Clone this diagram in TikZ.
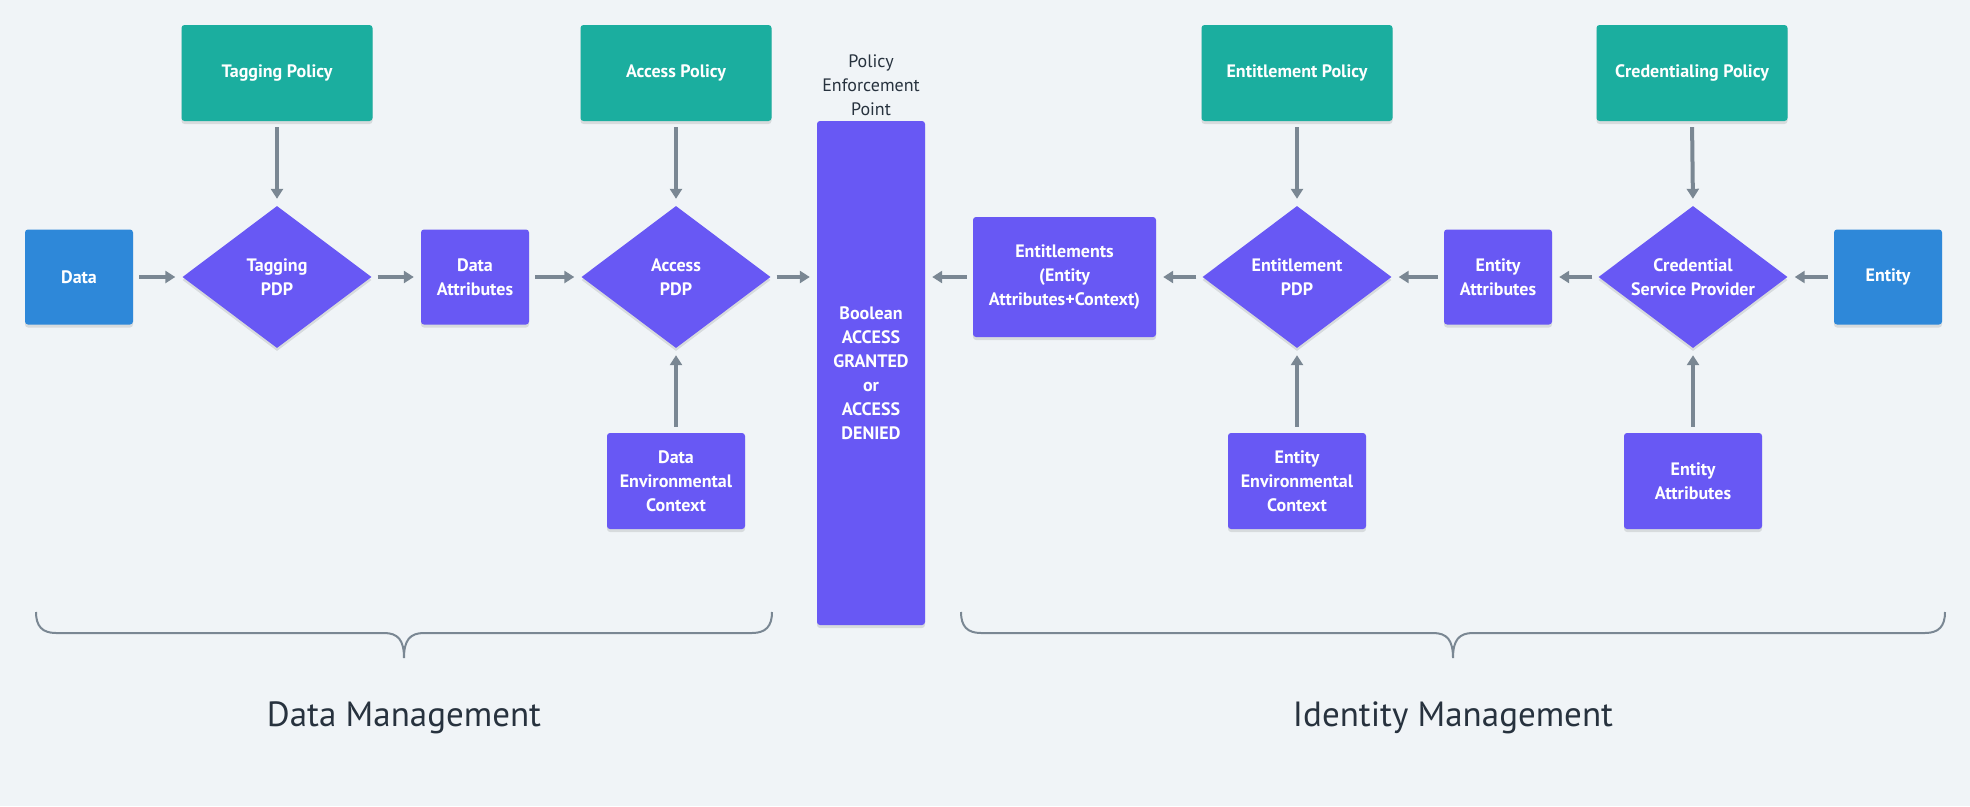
\documentclass[tikz,border=0pt]{standalone}
\usepackage{fontspec}
\setmainfont{PT Sans}
\newfontfamily\nodefont{PT Sans}
\usetikzlibrary{arrows.meta,shapes.geometric,shadows}
\definecolor{bgc}{RGB}{240,244,247}
\definecolor{tealc}{RGB}{27,174,159}
\definecolor{bluec}{RGB}{46,136,217}
\definecolor{purplec}{RGB}{104,88,244}
\definecolor{greyc}{RGB}{122,135,147}
\definecolor{darkc}{RGB}{39,50,62}
\tikzset{
  nodetext/.style={text=white, font=\nodefont\bfseries\fontsize{18}{24}\selectfont, align=center},
  basebox/.style={rectangle, rounded corners=3pt, inner sep=0pt, nodetext,
    drop shadow={shadow xshift=0pt, shadow yshift=-3pt, opacity=0.10, fill=black}},
  policybox/.style={basebox, fill=tealc, minimum width=191pt, minimum height=96pt},
  endbox/.style={basebox, fill=bluec, minimum width=108pt, minimum height=95pt},
  attrbox/.style={basebox, fill=purplec, minimum width=108pt, minimum height=95pt},
  ctxbox/.style={basebox, fill=purplec, minimum width=138pt, minimum height=96pt},
  pdp/.style={diamond, fill=purplec, inner sep=0pt, minimum width=189pt, minimum height=142pt,
    drop shadow={shadow xshift=0pt, shadow yshift=-3pt, opacity=0.10, fill=black}},
  arr/.style={draw=greyc, line width=4pt, -{Triangle[length=10pt,width=12pt]},
    shorten <=6pt, shorten >=7pt},
  bracec/.style={draw=greyc, line width=2pt},
  title/.style={text=darkc, font=\fontsize{35}{40}\selectfont},
}
\begin{document}
\begin{tikzpicture}[x=1pt,y=-1pt]
\fill[bgc] (0,0) rectangle (1970,806);

% policies
\node[policybox] (tpol) at (277,73) {Tagging Policy};
\node[policybox] (apol) at (676,73) {Access Policy};
\node[policybox] (epol) at (1297,73) {Entitlement Policy};
\node[policybox] (cpol) at (1692,73) {Credentialing Policy};

% main row
\node[endbox] (data) at (79,277) {Data};
\node[pdp, label={[nodetext]center:{Tagging\\PDP}}] (tpdp) at (277,277) {};
\node[attrbox] (dattr) at (475,277) {Data\\Attributes};
\node[pdp, label={[nodetext]center:{Access\\PDP}}] (apdp) at (676,277) {};
\node[basebox, fill=purplec, minimum width=108pt, minimum height=504pt] (pep) at (871,373)
  {Boolean\\ACCESS\\GRANTED\\or\\ACCESS\\DENIED};
\node[text=darkc, font=\fontsize{18}{24}\selectfont, align=center] (peplabel) at (871,85)
  {Policy\\Enforcement\\Point};
\node[basebox, fill=purplec, minimum width=183pt, minimum height=120pt] (ent) at (1064.5,277)
  {Entitlements\\(Entity\\Attributes+Context)};
\node[pdp, label={[nodetext]center:{Entitlement\\PDP}}] (epdp) at (1297,277) {};
\node[attrbox] (eattr) at (1498,277) {Entity\\Attributes};
\node[pdp, label={[nodetext]center:{Credential\\Service Provider}}] (csp) at (1693,277) {};
\node[endbox] (entity) at (1888,277) {Entity};

% bottom row
\node[ctxbox] (dctx) at (676,481) {Data\\Environmental\\Context};
\node[ctxbox] (ectx) at (1297,481) {Entity\\Environmental\\Context};
\node[ctxbox] (eattr2) at (1693,481) {Entity\\Attributes};

% connectors
\draw[arr] (data.east) -- (tpdp.west);
\draw[arr] (tpdp.east) -- (dattr.west);
\draw[arr] (dattr.east) -- (apdp.west);
\draw[arr] (apdp.east) -- (pep.west |- apdp.east);
\draw[arr] (ent.west) -- (pep.east |- ent.west);
\draw[arr] (epdp.west) -- (ent.east);
\draw[arr] (eattr.west) -- (epdp.east);
\draw[arr] (csp.west) -- (eattr.east);
\draw[arr] (entity.west) -- (csp.east);

\draw[arr] (tpol.south) -- (tpdp.north);
\draw[arr] (apol.south) -- (apdp.north);
\draw[arr] (epol.south) -- (epdp.north);
\draw[arr] (cpol.south) -- (csp.north);

\draw[arr] (dctx.north) -- (apdp.south);
\draw[arr] (ectx.north) -- (epdp.south);
\draw[arr] (eattr2.north) -- (csp.south);

% braces
\draw[bracec] (36,612) .. controls (36,626) and (42,633) .. (56,633) -- (384,633)
  .. controls (398,633) and (404,640) .. (404,658)
  .. controls (404,640) and (410,633) .. (424,633) -- (752,633)
  .. controls (766,633) and (772,626) .. (772,612);
\draw[bracec] (961,612) .. controls (961,626) and (967,633) .. (981,633) -- (1433,633)
  .. controls (1447,633) and (1453,640) .. (1453,658)
  .. controls (1453,640) and (1459,633) .. (1473,633) -- (1925,633)
  .. controls (1939,633) and (1945,626) .. (1945,612);

\node[title] (dm) at (404,718) {Data Management};
\node[title] (im) at (1453,718) {Identity Management};
\end{tikzpicture}
\end{document}
